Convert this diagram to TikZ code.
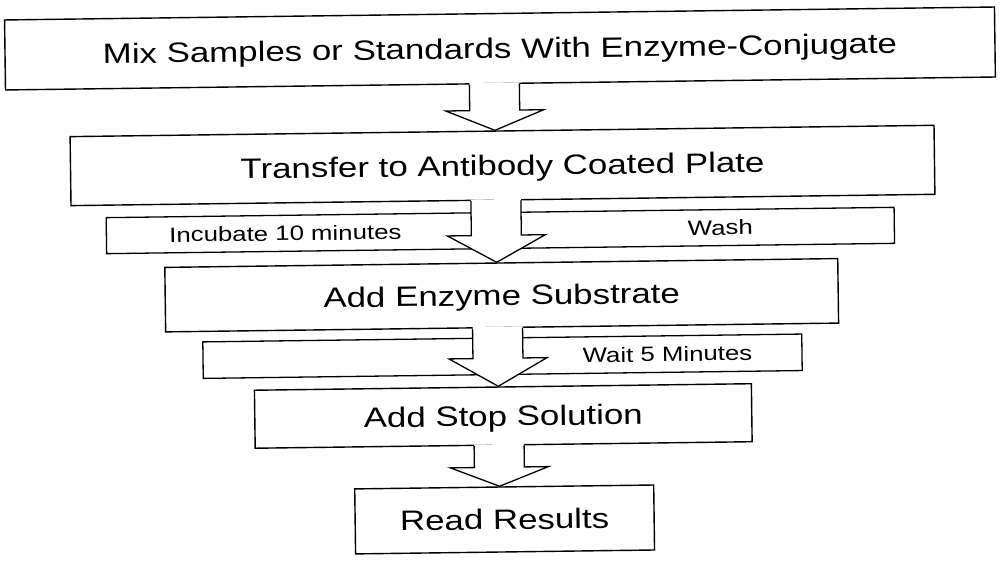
\documentclass[tikz,border=0pt]{standalone}
\usepackage{fontspec}
\setmainfont{Liberation Sans}
\usetikzlibrary{calc}
\newcommand{\wide}[1]{\scalebox{1.245}[1]{#1}}
\newcommand{\blkarrow}[3]{%
  \path (ax |- #1.south) coordinate (s) (ax |- #2.north) coordinate (t);
  \fill[white] ($(s)+(-25,-1.5)$) -- ($(t)+(-25,-#3)$) -- ($(t)+(-49,-#3)$) -- (t)
     -- ($(t)+(49,-#3)$) -- ($(t)+(25,-#3)$) -- ($(s)+(25,-1.5)$) -- cycle;
  \draw[arrline] ($(s)+(-25,0)$) -- ($(t)+(-25,-#3)$) -- ($(t)+(-49,-#3)$) -- (t)
     -- ($(t)+(49,-#3)$) -- ($(t)+(25,-#3)$) -- ($(s)+(25,0)$);
}
\tikzset{
  flowbox/.style={draw=black, line width=1.4pt, rectangle, inner sep=0pt,
    text height=20pt, text depth=0pt, font=\fontsize{28}{30}\selectfont},
  barbox/.style={draw=black, line width=1.3pt, rectangle, inner sep=0pt},
  barlabel/.style={inner sep=0pt, text height=14.8pt, text depth=0pt,
    font=\fontsize{20.7}{23}\selectfont},
  arrline/.style={draw=black, line width=1.3pt, line join=miter},
}
\begin{document}
\begin{tikzpicture}[x=1pt, y=-1pt]
\useasboundingbox[fill=white] (0,0) rectangle (1001,560);
\begin{scope}[rotate around={0.75:(500,280)}, transform shape]
\coordinate (ax) at (497,0);
\node[flowbox, minimum width=990, minimum height=70] (b1) at (503,48.5)
  {\wide{Mix Samples or Standards With Enzyme-Conjugate}};
\node[flowbox, minimum width=864, minimum height=69] (b2) at (504,165.5)
  {\wide{Transfer to Antibody Coated Plate}};
\node[barbox, minimum width=788, minimum height=36] (bar1) at (501,230.5) {};
\node[barlabel] (inc) at (286,230.5) {\wide{Incubate 10 minutes}};
\node[barlabel] (wash) at (721,230.5) {\wide{Wash}};
\node[flowbox, minimum width=673, minimum height=64.5] (b3) at (501.5,295.25)
  {\wide{Add Enzyme Substrate}};
\node[barbox, minimum width=599, minimum height=36.5] (bar2) at (501.5,356.25) {};
\node[barlabel] (wait) at (666.5,356.25) {\wide{Wait 5 Minutes}};
\node[flowbox, minimum width=497, minimum height=58] (b4) at (501.5,416)
  {\wide{Add Stop Solution}};
\node[flowbox, minimum width=299, minimum height=65] (b5) at (501.5,519.5)
  {\wide{Read Results}};
\blkarrow{b1}{b2}{20}
\blkarrow{b2}{b3}{27}
\blkarrow{b3}{b4}{28}
\blkarrow{b4}{b5}{19}
\end{scope}
\end{tikzpicture}
\end{document}
